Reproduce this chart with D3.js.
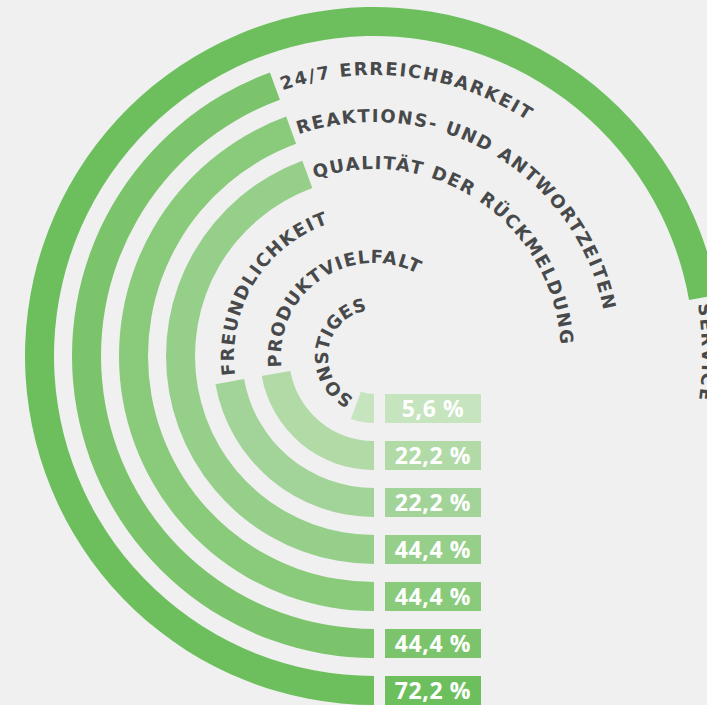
<!DOCTYPE html>
<html>
<head>
<meta charset="utf-8">
<script src="https://cdn.jsdelivr.net/npm/d3@7"></script>
<style>
  html, body { margin: 0; padding: 0; background: #eff0ef; overflow: hidden; }
  svg { display: block; }
</style>
</head>
<body>
<svg id="chart" width="707" height="705"></svg>
<script>
// Data (inner ring to outer ring)
const categories = ["SONSTIGES", "PRODUKTVIELFALT", "FREUNDLICHKEIT", "QUALITÄT DER RÜCKMELDUNG", "REAKTIONS- UND ANTWORTZEITEN", "24/7 ERREICHBARKEIT", "SERVICE"];
const values = [5.6, 22.2, 22.2, 44.4, 44.4, 44.4, 72.2];
const valueLabels = ["5,6 %", "22,2 %", "22,2 %", "44,4 %", "44,4 %", "44,4 %", "72,2 %"];
const colors = ["#c6e4bd", "#b1daa7", "#a2d499", "#96cf8a", "#89ca7b", "#7bc46c", "#6dbf5e"];

const W = 707, H = 705;
const cx = 374, cy = 356;

const svg = d3.select("#chart");
const g = svg.append("g").attr("transform", `translate(${cx},${cy})`);

const angle = d3.scaleLinear().domain([0, 100]).range([Math.PI, 3 * Math.PI]);
const radius = d3.scaleBand().domain(categories).range([38, 349]).paddingInner(18 / 47).paddingOuter(0);
const bw = radius.bandwidth();

const arc = d3.arc()
  .innerRadius(d => radius(d.cat))
  .outerRadius(d => radius(d.cat) + bw)
  .startAngle(angle(0))
  .endAngle(d => angle(d.value));

const data = categories.map((cat, i) => ({ cat, value: values[i], label: valueLabels[i], color: colors[i], i }));

g.selectAll("path.bar")
  .data(data)
  .join("path")
  .attr("class", "bar")
  .attr("d", arc)
  .attr("fill", d => d.color);

// label paths along the ring, starting at bar end
const defs = svg.append("defs");
data.forEach(d => {
  const rm = radius(d.cat) + bw / 2;
  const a0 = angle(d.value) - Math.PI / 2;
  const p = d3.path();
  p.arc(0, 0, rm, a0, a0 + Math.PI * 1.6, false);
  defs.append("path").attr("id", "lp" + d.i).attr("d", p.toString());
});

g.selectAll("text.cat")
  .data(data)
  .join("text")
  .attr("class", "cat")
  .attr("dy", "0.36em")
  .style("font-family", "'DejaVu Sans', 'Open Sans', sans-serif")
  .style("font-weight", 700)
  .style("font-size", "18px")
  .style("letter-spacing", "2px")
  .attr("fill", "#47494b")
  .append("textPath")
  .attr("href", d => "#lp" + d.i)
  .attr("startOffset", 6)
  .text(d => d.cat);

// value label boxes
const boxX = 385 - cx, boxW = 96;
g.selectAll("rect.val")
  .data(data)
  .join("rect")
  .attr("class", "val")
  .attr("x", boxX)
  .attr("y", d => radius(d.cat))
  .attr("width", boxW)
  .attr("height", bw)
  .attr("fill", d => d.color);

g.selectAll("text.val")
  .data(data)
  .join("text")
  .attr("class", "val")
  .attr("x", boxX + boxW / 2)
  .attr("y", d => radius(d.cat) + bw / 2)
  .attr("dy", "0.36em")
  .attr("text-anchor", "middle")
  .style("font-family", "'Open Sans', 'DejaVu Sans', sans-serif")
  .style("font-weight", 700)
  .style("font-size", "23px")
  .style("letter-spacing", "0.6px")
  .attr("fill", "#ffffff")
  .text(d => d.label);
</script>
</body>
</html>
